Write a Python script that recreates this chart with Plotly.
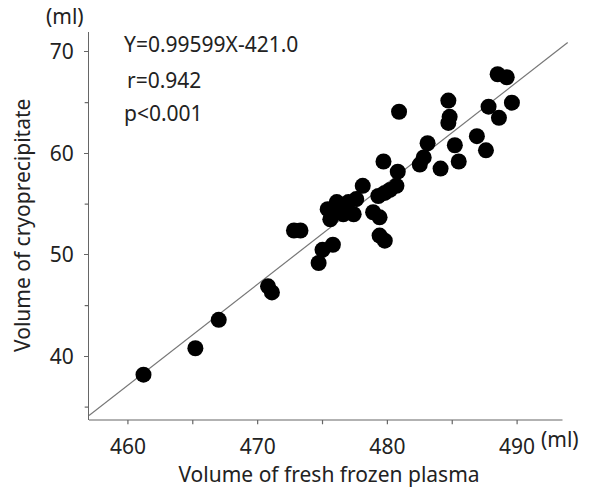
import plotly.graph_objects as go

# Data
ffp_volume = [461.2, 465.2, 467.0, 470.8, 471.1, 472.8, 473.3, 474.7, 475.0, 475.8,
              475.4, 475.6, 476.1, 477.0, 477.6, 476.6, 477.4, 475.8, 478.1, 478.9,
              479.4, 479.4, 479.8, 479.3, 479.8, 480.2, 480.7, 480.8, 479.7, 480.9,
              482.5, 482.8, 483.1, 484.1, 484.7, 484.8, 484.7, 485.2, 485.5, 486.9,
              487.6, 487.8, 488.6, 488.5, 489.2, 489.6]
cryo_volume = [38.2, 40.8, 43.6, 46.9, 46.3, 52.4, 52.4, 49.2, 50.5, 51.0,
               54.5, 53.5, 55.2, 55.2, 55.5, 54.0, 54.0, 54.2, 56.8, 54.2,
               53.7, 51.9, 51.4, 55.8, 56.1, 56.4, 56.8, 58.2, 59.2, 64.1,
               58.9, 59.6, 61.0, 58.5, 65.2, 63.6, 63.0, 60.8, 59.2, 61.7,
               60.3, 64.6, 63.5, 67.8, 67.5, 65.0]
slope = 0.99599
intercept = -421.0
fit_x = [457.0, 493.9]
fit_y = [slope * v + intercept for v in fit_x]

x_ticks = [460, 470, 480, 490]
y_ticks = [40, 50, 60, 70]

FONT = "Noto Sans"
TXT = "#222222"
FS = 21

fig = go.Figure()
fig.add_trace(go.Scatter(x=fit_x, y=fit_y, mode="lines",
                         line=dict(color="#777777", width=1.2),
                         hoverinfo="skip", showlegend=False))
fig.add_trace(go.Scatter(x=ffp_volume, y=cryo_volume, mode="markers",
                         marker=dict(color="black", size=16, line=dict(width=0)),
                         showlegend=False, cliponaxis=False))

fig.update_layout(
    width=590, height=494,
    margin=dict(l=89, r=21, t=32, b=72),
    paper_bgcolor="white", plot_bgcolor="white",
    font=dict(family=FONT, size=FS, color=TXT),
    xaxis=dict(range=[457.0, 494.0], tickvals=x_ticks, ticktext=[str(v) for v in x_ticks],
               showgrid=False, zeroline=False, showline=False,
               ticks="outside", ticklen=8, tickcolor="rgba(0,0,0,0)",
               tickfont=dict(size=FS, family=FONT, color=TXT),
               title=dict(text="Volume of fresh frozen plasma", font=dict(size=FS, family=FONT, color=TXT),
                          standoff=7)),
    yaxis=dict(range=[33.73, 71.96], tickvals=y_ticks, ticktext=[str(v) for v in y_ticks],
               showgrid=False, zeroline=False, showline=True, linecolor="#666666", linewidth=1.2,
               ticks="outside", ticklen=4, tickcolor="#666666", ticklabelstandoff=6,
               tickfont=dict(size=FS, family=FONT, color=TXT)),
)

# y-axis title
fig.add_annotation(xref="paper", yref="paper", x=0, y=0.5, xshift=-67, xanchor="center", yanchor="middle",
                   text="Volume of cryoprecipitate", textangle=-90, showarrow=False,
                   font=dict(size=FS, family=FONT, color=TXT))

# minor ticks on y
for v in [35, 45, 55, 65]:
    fig.add_shape(type="line", xref="paper", yref="y", x0=-0.009, x1=0, y0=v, y1=v,
                  line=dict(color="#666666", width=1.2))
# bottom axis line and ticks
fig.add_shape(type="line", xref="x", yref="paper", x0=457.0, x1=493.5, y0=0, y1=0,
              line=dict(color="#666666", width=1.2))
for v in [460, 465, 470, 475, 480, 485, 490]:
    fig.add_shape(type="line", xref="x", yref="paper", x0=v, x1=v, y0=0, y1=-0.011,
                  line=dict(color="#666666", width=1.2))

fig.add_annotation(xref="paper", yref="paper", x=0, y=1.0, xanchor="right", yanchor="bottom",
                   text="(ml)", showarrow=False, font=dict(size=FS, family=FONT, color=TXT), xshift=-3)
fig.add_annotation(xref="x", yref="paper", x=491.7, y=0, xanchor="left", yanchor="top",
                   text="(ml)", showarrow=False, font=dict(size=FS, family=FONT, color=TXT), yshift=-3)

fig.add_annotation(xref="paper", yref="paper", x=0.068, y=0.97, xanchor="left", yanchor="middle",
                   text="Y=0.99599X-421.0", showarrow=False, font=dict(size=FS, family=FONT, color=TXT))
fig.add_annotation(xref="paper", yref="paper", x=0.076, y=0.877, xanchor="left", yanchor="middle",
                   text="r=0.942", showarrow=False, font=dict(size=FS, family=FONT, color=TXT))
fig.add_annotation(xref="paper", yref="paper", x=0.068, y=0.79, xanchor="left", yanchor="middle",
                   text="p<0.001", showarrow=False, font=dict(size=FS, family=FONT, color=TXT))

fig.write_html("out.html")
